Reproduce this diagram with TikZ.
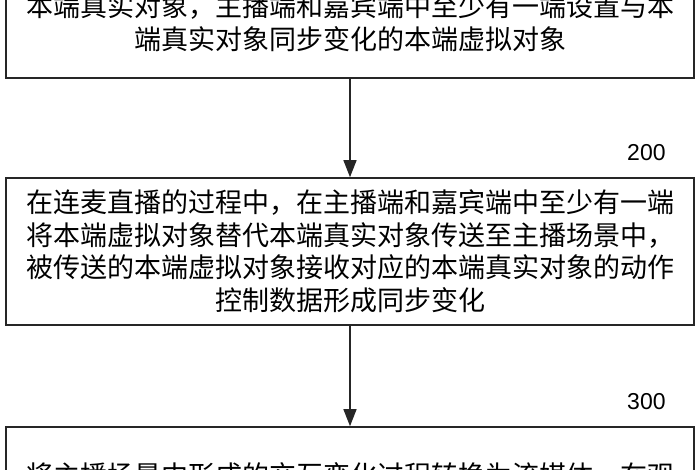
\documentclass[tikz,border=0pt]{standalone}
\usepackage{fontspec}
\setmainfont{Noto Sans CJK SC}
\newfontfamily\numfont{Liberation Sans}
\usetikzlibrary{positioning, arrows.meta}

\begin{document}
\begin{tikzpicture}[x=1pt, y=1pt,
        stepbox/.style = {draw=black!85, line width=1.6pt, minimum width=688pt, inner sep=0pt, align=center, font=\fontsize{27}{33}\selectfont},
        numlabel/.style = {font=\numfont\fontsize{23}{23}\selectfont, inner sep=0pt},
        arrow/.style = {-{Triangle[length=17pt, width=13pt]}, line width=1.3pt, black!85}
    ]
        \useasboundingbox (0,0) rectangle (700,-470);
        \clip (0,0) rectangle (700,-470);
        \fill[white] (0,0) rectangle (700,-470);
        \node[stepbox, minimum height=110pt] (s100) at (350,-23) {本端真实对象，主播端和嘉宾端中至少有一端设置与本\\端真实对象同步变化的本端虚拟对象};
        \node[stepbox, minimum height=147pt, font=\fontsize{27}{32.5}\selectfont] (s200) at (350,-251.5) {在连麦直播的过程中，在主播端和嘉宾端中至少有一端\\将本端虚拟对象替代本端真实对象传送至主播场景中，\\被传送的本端虚拟对象接收对应的本端真实对象的动作\\控制数据形成同步变化};
        \node[stepbox, minimum height=96pt] (s300) at (350,-475) {将主播场景中形成的交互变化过程转换为流媒体，在观};
        \node[numlabel, above left=16pt and 29pt of s200.north east] (l200) {200};
        \node[numlabel, above left=16pt and 29pt of s300.north east] (l300) {300};
        \draw[arrow] (s100) -- (s200);
        \draw[arrow] (s200) -- (s300);
    \end{tikzpicture}
\end{document}
